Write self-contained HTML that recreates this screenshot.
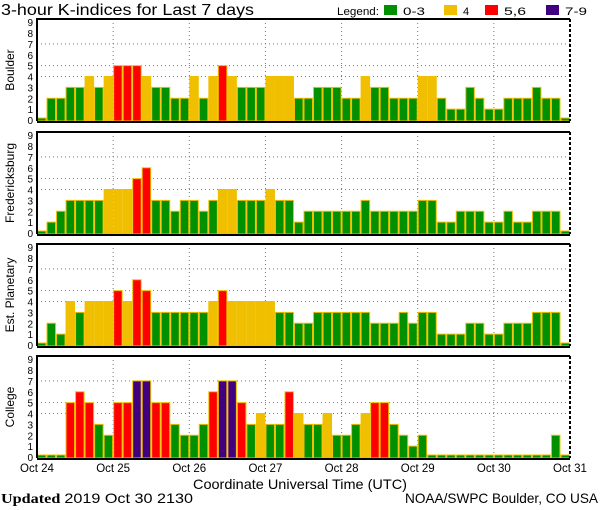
<!DOCTYPE html>
<html><head><meta charset="utf-8"><style>
body{margin:0;background:#fff;}
svg{display:block;font-family:"Liberation Sans",sans-serif;}
</style></head><body>
<svg id="chart" width="600" height="510" xmlns="http://www.w3.org/2000/svg">
<text x="1" y="15" font-size="16" textLength="253" lengthAdjust="spacingAndGlyphs" fill="#000">3-hour K-indices for Last 7 days</text>
<g>
<text x="337" y="15" font-size="11" textLength="42" lengthAdjust="spacingAndGlyphs">Legend:</text>
<rect x="384" y="5" width="13" height="10" fill="#009000"/>
<text x="403" y="15" font-size="11" textLength="22" lengthAdjust="spacingAndGlyphs">0-3</text>
<rect x="444" y="5" width="13" height="10" fill="#f0c000"/>
<text x="463" y="15" font-size="11">4</text>
<rect x="485" y="5" width="13" height="10" fill="#ff0000"/>
<text x="504" y="15" font-size="11" textLength="22" lengthAdjust="spacingAndGlyphs">5,6</text>
<rect x="546" y="5" width="13" height="10" fill="#400080"/>
<text x="565" y="15" font-size="11" textLength="22" lengthAdjust="spacingAndGlyphs">7-9</text>
</g>
<g id="panels"></g>
<text x="193" y="489" font-size="14" textLength="214" lengthAdjust="spacingAndGlyphs">Coordinate Universal Time (UTC)</text>
<text x="1" y="503" font-size="14" font-family="Liberation Serif,serif" textLength="192" lengthAdjust="spacingAndGlyphs"><tspan font-weight="bold">Updated</tspan> <tspan font-family="Liberation Sans,sans-serif">2019 Oct 30 2130</tspan></text>
<text x="405" y="503" font-size="14" textLength="193" lengthAdjust="spacingAndGlyphs">NOAA/SWPC Boulder, CO USA</text>
</svg>
<script>
const stations = ["Boulder","Fredericksburg","Est. Planetary","College"];
const dayLabels = ["Oct 24","Oct 25","Oct 26","Oct 27","Oct 28","Oct 29","Oct 30","Oct 31"];
const yTicks = [0,1,2,3,4,5,6,7,8,9];
const boulder = [0,2,2,3,3,4,3,4, 5,5,5,4,3,3,2,2, 4,2,4,5,4,3,3,3, 4,4,4,2,2,3,3,3, 2,2,4,3,3,2,2,2, 4,4,2,1,1,3,2,1, 1,2,2,2,3,2,2,0];
const fredericksburg = [0,1,2,3,3,3,3,4, 4,4,5,6,3,3,2,3, 3,2,3,4,4,3,3,3, 4,3,3,1,2,2,2,2, 2,2,3,2,2,2,2,2, 3,3,1,1,2,2,2,1, 1,2,1,1,2,2,2,0];
const planetary = [0,2,1,4,3,4,4,4, 5,4,6,5,3,3,3,3, 3,3,4,5,4,4,4,4, 4,3,3,2,2,3,3,3, 3,3,3,2,2,2,3,2, 3,3,1,1,1,2,2,1, 1,2,2,2,3,3,3,0];
const college = [0,0,0,5,6,5,3,2, 5,5,7,7,5,5,3,2, 2,3,6,7,7,5,3,4, 3,3,6,4,3,3,4,2, 2,3,4,5,5,3,2,1, 2,0,0,0,0,0,0,0, 0,0,0,0,0,0,2,0];
const series = [boulder, fredericksburg, planetary, college];

const NS="http://www.w3.org/2000/svg";
const X0=37, X1=570, panelTops=[19,132,244,356], PH=102;
const nBars=56;
const xScale=i=>X0+i*(X1-X0)/nBars;
const dayX=d=>X0+d*(X1-X0)/7;
function color(k){return k<=3?"#009000":k==4?"#f0c000":k<=6?"#ff0000":"#400080";}
function mk(tag,attrs,parent){const e=document.createElementNS(NS,tag);for(const k in attrs)e.setAttribute(k,attrs[k]);parent.appendChild(e);return e;}
const root=document.getElementById("panels");
stations.forEach((name,p)=>{
  const top=panelTops[p], bottom=top+PH;
  const yScale=v=>bottom-1-v*(PH-2.5)/9.15;
  const g=mk("g",{},root);
  
  
  [4,5,7].forEach(v=>{
    const l=mk("line",{x1:X0,x2:X1,y1:yScale(v),y2:yScale(v),stroke:"#777","stroke-dasharray":"1,3"},g);
    
    
  });
  for(let d=1;d<7;d++){
    const l=mk("line",{x1:dayX(d),x2:dayX(d),y1:top,y2:bottom,stroke:"#777","stroke-dasharray":"1,3"},g);
    
    
  }
  const bw=(X1-X0)/nBars;
  series[p].forEach((v,i)=>{
    const y=v===0?bottom-3:yScale(v);
    const r=mk("rect",{x:xScale(i)+0.5,y:y,width:bw-1,height:bottom-y,fill:color(v),stroke:"#f0c000","stroke-width":1},g);
    
    
  });
  const b=mk("path",{d:`M${X0},${bottom} V${top} H${X1}`,stroke:"#000","stroke-width":2,fill:"none"},g);
  
  
  const r2=mk("line",{x1:X1,x2:X1,y1:top,y2:bottom,stroke:"#000","stroke-width":2,"stroke-dasharray":"3,2"},g);
  
  
  const ax=mk("line",{x1:X0,x2:X1,y1:bottom+1,y2:bottom+1,stroke:"#000","stroke-width":2},g);
  
  
  yTicks.forEach(t=>{
    const tx=mk("text",{x:33,y:yScale(t)+4,"font-size":10,"text-anchor":"end"},g);
    tx.textContent=t;
    
    
  });
  const cy=(top+bottom)/2;
  const tt=mk("text",{x:14,y:cy,"font-size":12,"text-anchor":"middle",transform:`rotate(-90 14 ${cy})`},g);
  tt.textContent=name;
  
  
});
dayLabels.forEach((lab,d)=>{
  const t=mk("text",{x:dayX(d),y:472,"font-size":11.5,"text-anchor":"middle"},document.getElementById("chart"));
  t.textContent=lab;
  
  
});
</script>
</body></html>
